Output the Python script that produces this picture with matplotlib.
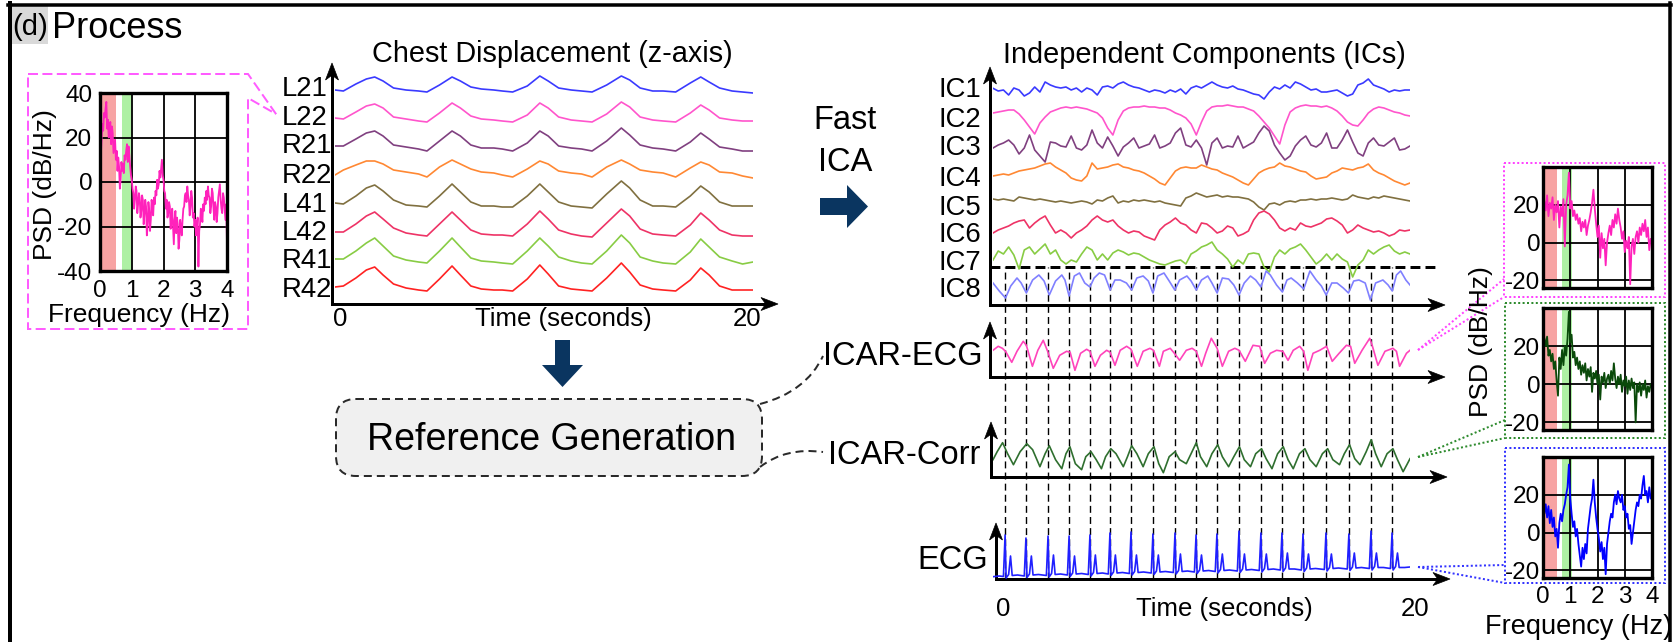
import numpy as np
import matplotlib
matplotlib.use("Agg")
import matplotlib.pyplot as plt
from matplotlib.patches import Polygon, Rectangle, FancyBboxPatch, PathPatch
from matplotlib.path import Path

plt.rcParams['font.family'] = ['Liberation Sans', 'DejaVu Sans']
plt.rcParams['axes.unicode_minus'] = False

W, H, DPI = 1673, 642, 100

# ---------------------------------------------------------------- data
# chest displacement (z-axis), per channel, relative to each channel's low level
chest_labels = ['L21', 'L22', 'R21', 'R22', 'L41', 'L42', 'R41', 'R42']
chest_colors = ['#3a3aff', '#ff55cc', '#804080', '#ff8833',
                '#807040', '#ee3366', '#88cc44', '#ff2222']
chest_t = [0.0, 0.4, 1.0, 1.5, 1.9, 2.3, 2.8, 3.4, 4.0, 4.4,
           5.0, 5.6, 6.0, 6.5, 7.0, 7.6, 8.0, 8.5,
           9.2, 9.8, 10.2, 10.7, 11.3, 11.8, 12.3,
           13.0, 13.7, 14.1, 14.6, 15.2, 15.7, 16.3,
           17.0, 17.5, 17.9, 18.4, 19.0, 19.5, 20.0]
chest_L21 = [2, 1, 8, 13, 15, 11, 4, 2, 1, 0, 7, 15, 11, 5, 3, 2, 1, 0,
             6, 16, 11, 4, 2, 1, 0, 7, 16, 12, 4, 1, 1, 0, 9, 15, 10, 4, 1, 0, -1]
chest_L22 = [4, 3, 10, 16, 18, 14, 5, 3, 1, 0, 9, 19, 14, 6, 3, 2, 1, 0,
             7, 19, 14, 5, 2, 1, 0, 8, 20, 15, 5, 2, 1, 0, 9, 17, 12, 4, 2, 1, 1]
chest_R21 = [5, 5, 12, 18, 20, 15, 6, 4, 2, 0, 10, 20, 15, 6, 3, 3, 2, 0,
             8, 20, 15, 5, 3, 2, 0, 10, 23, 16, 6, 3, 2, 0, 9, 18, 12, 4, 2, 0, 0]
chest_R22 = [3, 8, 13, 17, 17, 14, 8, 6, 4, 1, 11, 18, 14, 9, 6, 5, 3, 1,
             9, 17, 14, 7, 5, 4, 1, 11, 18, 14, 8, 6, 5, 1, 10, 16, 13, 6, 5, 2, 0]
chest_L41 = [5, 4, 12, 20, 23, 17, 8, 3, 2, 1, 12, 24, 16, 6, 2, 2, 1, 1,
             12, 24, 16, 6, 2, 1, 0, 14, 27, 20, 8, 2, 2, 1, 12, 22, 16, 6, 2, 2, 2]
chest_L42 = [5, 5, 13, 21, 25, 18, 9, 4, 2, 1, 13, 25, 17, 7, 3, 2, 2, 1,
             13, 26, 18, 7, 3, 1, 0, 14, 28, 21, 8, 3, 2, 1, 12, 24, 17, 7, 2, 1, 1]
chest_R41 = [6, 6, 14, 22, 27, 19, 9, 5, 3, 2, 14, 27, 18, 7, 4, 3, 2, 1,
             14, 27, 19, 8, 4, 2, 1, 14, 30, 22, 8, 4, 2, 1, 13, 26, 18, 8, 4, 1, 3]
chest_R42 = [5, 6, 14, 22, 25, 17, 8, 4, 2, 1, 13, 26, 17, 6, 3, 2, 2, 1,
             13, 27, 18, 6, 3, 2, 1, 14, 29, 20, 7, 3, 2, 1, 12, 24, 17, 6, 2, 2, 2]
chest_series = [chest_L21, chest_L22, chest_R21, chest_R22,
                chest_L41, chest_L42, chest_R41, chest_R42]

# independent components, sampled every 0.25 s
ic_labels = ['IC1', 'IC2', 'IC3', 'IC4', 'IC5', 'IC6', 'IC7', 'IC8']
ic_colors = ['#3a3aff', '#ff55cc', '#804080', '#ff8833',
             '#807040', '#ee3366', '#88cc44', '#8080ff']
ic_t = np.linspace(0, 20, 81)
ic1 = [1.7, -1, 0, -5, 2, 0, -6, -3,
       3, -2, 8, 5, 3, 2, 3, 0,
       2, -2, 2, 0, -5, 3, 4, 2,
       6, 8, 5, 3, 2, 0, -2, 0,
       -1, -3, 0, -2, 1, -4, 2, 4,
       2, 5, 8, 5, 3, 2, 4, 1,
       0, -2, -4, -5, -9, -2, 3, 1,
       5, 2, 8, 6, 3, 0, 1, -2,
       -2, -1, 0, -3, -6, -4, 5, 7,
       11, 5, 3, 1, -2, 0, -1, 0,
       0]
ic2 = [-5, -4, -3, -2, -2, -6, -12, -19,
       -26, -15, -9, -4, -2, 0, 1, 0,
       1, 0, -1, -3, -5, -10, -20, -27,
       -12, -3, 0, 1, 1, 2, 1, 1,
       0, 0, -2, -5, -7, -10, -16, -27,
       -14, -3, 1, 2, 2, 3, 2, 1,
       1, -1, -3, -8, -14, -20, -28, -36,
       -17, -4, 0, 2, 3, 2, 2, 1,
       2, 0, -3, -8, -14, -17, -18, -12,
       -5, -1, 1, 0, -2, -4, -5, -7,
       -8]
ic3 = [0, 3, 5, 8, 3, -6, 0, 13,
       -2, -8, -14, 6, 5, 2, 1, 12,
       0, -2, 3, 18, 5, 0, 11, 2,
       -8, 1, 5, 10, 0, 2, 4, 13,
       0, 2, 5, 15, 20, 3, 1, 8,
       0, -17, 5, 10, 0, 2, 1, 12,
       0, 3, 6, 15, 22, 17, 3, -5,
       -12, -8, 2, 8, 12, 3, 1, 5,
       15, 0, 0, 8, 18, 6, -5, -8,
       5, 10, 3, 2, 6, 10, -2, -1,
       2]
ic4 = [-3, -2, -1, -2, 0, 2, 3, 4,
       5, 7, 9, 10, 6, 3, 0, -5,
       -7, -8, -3, 10, 4, 5, 6, 8,
       9, 6, 5, 3, 2, 0, -3, -6,
       -10, -12, -5, 2, 5, 6, 5, 5,
       8, 6, 4, 3, 0, -2, -4, -7,
       -10, -12, -6, 0, 3, 5, 6, 10,
       7, 6, 4, 2, 1, -3, -6, -5,
       -4, 0, 2, 5, 4, 3, 5, 6,
       9, 3, 0, -2, -5, -8, -10, -12,
       -10]
ic5 = [1, 0, 1, 0, -1, 3, 2, 1,
       0, 1, 0, -1, -2, -1, -2, -3,
       -2, -1, -2, -4, 0, -1, 2, 4,
       -3, -1, -2, 0, -1, 0, -1, -2,
       -1, -3, -4, -5, -6, 2, 4, 7,
       5, 3, 4, 5, 3, 4, 3, 3,
       2, 1, -2, -7, -10, -4, -3, -5,
       -2, -1, -2, 0, 0, 1, 0, 1,
       1, 2, 1, 0, 1, 5, 3, 2,
       1, 3, 2, 4, 3, 2, 1, 0,
       -1]
ic6 = [-5, -2, 0, 2, 5, 7, 8, 0,
       5, 9, 12, 3, -5, -2, -5, -10,
       -5, -2, 2, 8, 12, 8, 6, 8,
       2, -2, -5, -3, -4, -8, -10, -12,
       -2, 3, 6, 10, 5, 3, -2, -5,
       5, 4, 0, -5, -3, 2, 0, -8,
       -6, -3, 8, 15, 17, 14, 8, 0,
       -3, 0, -2, 5, 2, 1, 3, 5,
       9, 10, 7, 3, -5, -2, 3, 0,
       -2, -4, -3, -5, -8, -6, -2, -3,
       -2]
ic7 = [-3, 6, 3, 10, 2, -12, 7, 10,
       3, 8, 13, 3, 7, -3, -7, -3,
       -5, 3, 10, 7, -3, 3, -3, 4,
       7, 5, 2, 4, 3, 0, -3, -5,
       -7, -8, -6, -4, -3, -7, 3, 6,
       10, 12, 15, 7, 3, -2, -10, -3,
       -7, 3, 4, 3, -10, -15, 0, 7,
       3, 8, 10, 13, 7, 0, -7, -3,
       3, -3, 3, -2, -5, -20, -8, -3,
       7, 3, 7, 10, 12, 6, 3, 5,
       3]
ic8_pts = [(0.0, 0), (0.3, -8), (0.6, -15), (0.85, -3), (1.15, 5), (1.35, 0),
           (1.6, -10), (1.9, 3), (2.2, 8), (2.45, 2), (2.7, -12), (3.0, 2),
           (3.3, 8), (3.45, 3), (3.65, -13), (3.9, 7), (4.15, 10), (4.4, 0),
           (4.65, -4), (4.85, 5), (5.1, 10), (5.35, 8), (5.62, -7), (5.85, 3),
           (6.1, 3), (6.4, 0), (6.65, -7), (6.9, 5), (7.2, 7), (7.45, 2),
           (7.67, -10), (7.9, 7), (8.2, 10), (8.45, 2), (8.72, -7), (8.95, 3),
           (9.3, 7), (9.5, 2), (9.75, -7), (10.0, 3), (10.3, 7), (10.5, 0),
           (10.75, -10), (11.0, 5), (11.3, 4), (11.55, -2), (11.8, -12), (12.05, 0),
           (12.35, 7), (12.6, 3), (12.85, -4), (13.1, 12), (13.3, 8), (13.6, -2),
           (13.88, -9), (14.1, 3), (14.3, 5), (14.6, 0), (14.9, -6), (15.2, 12),
           (15.5, 3), (15.75, -3), (15.98, -12), (16.25, 0), (16.5, 0), (16.8, -5),
           (17.05, -10), (17.3, 2), (17.55, 3), (17.85, 0), (18.1, -17), (18.35, 0),
           (18.7, 3), (18.95, -2), (19.15, -8), (19.35, 8), (19.55, 12), (19.8, 3),
           (20.0, -2)]

# reference signals
icar_ecg_pts = [(0, 3), (0.25, 7), (0.45, 5), (0.6, 2), (0.9, -9), (1.15, 2), (1.45, 12),
                (1.6, 8), (1.89, -13), (2.15, 3), (2.41, 13), (2.62, 2), (2.89, -15),
                (3.2, -2), (3.53, 2), (3.7, 1), (3.93, -17), (4.2, 0), (4.49, 4), (4.65, 2),
                (4.89, -13), (5.15, -2), (5.45, 3), (5.62, 1), (5.85, -12), (6.1, 3),
                (6.41, 7), (6.62, 4), (6.92, -13), (7.2, 2), (7.53, 5), (7.7, 3), (7.98, -13),
                (8.17, 2), (8.5, 5), (8.7, 0), (8.95, -7), (9.27, 3), (9.55, 5), (9.75, 2),
                (10.0, -13), (10.2, 0), (10.47, 15), (10.75, 5), (11.0, -13), (11.3, 2),
                (11.6, 5), (11.8, 3), (12.1, -8), (12.47, 8), (12.79, 7), (13.03, -10),
                (13.3, 0), (13.6, 3), (13.9, 2), (14.15, -7), (14.4, 3), (14.71, 7),
                (14.9, 2), (15.1, -17), (15.35, 0), (15.67, 3), (16.0, 7), (16.27, -8),
                (16.6, 0), (16.95, 8), (17.15, 7), (17.35, -10), (17.7, 3), (18.07, 15),
                (18.2, 7), (18.46, -12), (18.8, 2), (19.18, 5), (19.35, 2), (19.5, -13),
                (19.83, 0), (20.0, 3)]
icar_corr_pts = [(0, -3), (0.2, 5), (0.46, 14), (0.7, 3), (0.98, -8), (1.3, 5), (1.62, 13),
                 (1.9, 7), (2.25, -10), (2.5, 3), (2.7, 11), (3.0, -3), (3.3, -12), (3.5, 3),
                 (3.69, 10), (3.95, -7), (4.25, -13), (4.45, 0), (4.7, 5), (4.95, -3),
                 (5.2, -12), (5.4, 0), (5.65, 8), (5.9, 3), (6.25, -10), (6.45, 0),
                 (6.65, 11), (6.9, 3), (7.2, -10), (7.45, 3), (7.72, 10), (7.95, -7),
                 (8.17, -16), (8.45, 0), (8.73, 5), (8.95, -3), (9.27, -7), (9.5, 3),
                 (9.75, 14), (9.95, 0), (10.25, -10), (10.5, 3), (10.78, 12), (11.0, 0),
                 (11.3, -10), (11.55, 0), (11.82, 10), (12.05, -3), (12.35, -10), (12.6, 3),
                 (12.88, 8), (13.1, -2), (13.38, -12), (13.65, 3), (13.92, 10), (14.15, -3),
                 (14.4, -12), (14.7, 3), (14.96, 8), (15.2, -3), (15.5, -10), (15.8, 3),
                 (16.05, 8), (16.3, -3), (16.62, -8), (16.85, 3), (17.1, 12), (17.35, -2),
                 (17.6, -8), (17.9, 5), (18.14, 17), (18.35, 3), (18.62, -10), (18.9, 3),
                 (19.18, 8), (19.4, -3), (19.67, -15), (19.85, -8), (20.0, -2)]

# ECG: R-peak instants (s) and the traced waveform vertices
r_peak_times = [0.58, 1.58, 2.64, 3.65, 4.65, 5.61, 6.62, 7.67, 8.73, 9.74,
                10.74, 11.80, 12.85, 13.86, 14.87, 15.97, 17.07, 18.13, 19.14]
ecg_t = [0.0, 0.3,
         0.50, 0.58, 0.63, 0.75, 0.84, 0.92, 1.18,
         1.50, 1.58, 1.63, 1.75, 1.84, 1.92, 2.18,
         2.56, 2.64, 2.69, 2.81, 2.90, 2.98, 3.24,
         3.57, 3.65, 3.70, 3.82, 3.91, 3.99, 4.25,
         4.57, 4.65, 4.70, 4.82, 4.91, 4.99, 5.25,
         5.53, 5.61, 5.66, 5.78, 5.87, 5.95, 6.21,
         6.54, 6.62, 6.67, 6.79, 6.88, 6.96, 7.22,
         7.59, 7.67, 7.72, 7.84, 7.93, 8.01, 8.27,
         8.65, 8.73, 8.78, 8.90, 8.99, 9.07, 9.33,
         9.66, 9.74, 9.79, 9.91, 10.00, 10.08, 10.34,
         10.66, 10.74, 10.79, 10.91, 11.00, 11.08, 11.34,
         11.72, 11.80, 11.85, 11.97, 12.06, 12.14, 12.40,
         12.77, 12.85, 12.90, 13.02, 13.11, 13.19, 13.45,
         13.78, 13.86, 13.91, 14.03, 14.12, 14.20, 14.46,
         14.79, 14.87, 14.92, 15.04, 15.13, 15.21, 15.47,
         15.89, 15.97, 16.02, 16.14, 16.23, 16.31, 16.57,
         16.99, 17.07, 17.12, 17.24, 17.33, 17.41, 17.67,
         18.05, 18.13, 18.18, 18.30, 18.39, 18.47, 18.73,
         19.06, 19.14, 19.19, 19.31, 19.40, 19.48, 19.74,
         20.0]
ecg_v = [0.3, 1,
         0.5, 42, -1, 2.5, 21, 1.5, 2,
         1, 39, -0.5, 3, 21, 2, 2.5,
         1.5, 41, 0, 3.5, 22, 2.5, 3,
         2, 41, 0.5, 4, 21, 3, 3.5,
         2.5, 42, 1, 4.5, 22, 3.5, 4,
         3, 44, 1.5, 5, 22, 4, 4.5,
         3.5, 45, 2, 5.5, 22, 4.5, 5,
         4, 43, 2.5, 6, 22, 5, 5.5,
         4.5, 44, 3, 6.5, 23, 5.5, 6,
         5, 42, 3.5, 7, 22, 6, 6.5,
         5.5, 43, 4, 7.5, 23, 6.5, 7,
         6, 46, 4.5, 8, 23, 7, 7.5,
         6.5, 44, 5, 8.5, 23, 7.5, 8,
         7, 44, 5.5, 9, 24, 8, 8,
         7, 43, 5.5, 9, 23, 8, 8.5,
         7.5, 44, 6, 9.5, 23, 8.5, 9,
         8, 43, 6.5, 10, 24, 9, 9.5,
         8.5, 46, 7, 10.5, 24, 9.5, 9.5,
         8.5, 44, 7, 10.5, 24, 9.5, 9.5,
         10]

# power spectral densities (dB/Hz) over 0-4 Hz
psd_chest = [-38, 12, 19, 26, 23, 31, 29, 33, 36, 24,
             28, 20, 23, 27, 17, 25, 22, 13, 16, 19,
             10, 14, 5, 11, 7, -3, 1, 9, 5, 8,
             4, 12, 10, 14, 17, 9, 16, 12, 7, 3,
             1, -3, -5, -12, -8, -2, -4, -14, -10, -5,
             -7, -16, -13, -6, -8, -19, -14, -8, -11, -24,
             -20, -9, -13, -22, -17, -8, -11, -15, -7, -10,
             -4, -6, 1, -3, -1, 5, 2, 6, 10, 3,
             1, -4, -5, -12, -8, -16, -14, -9, -11, -21,
             -17, -12, -20, -28, -17, -13, -23, -16, -19, -30,
             -26, -17, -20, -24, -17, -12, -11, -6, -5, -9,
             -2, -6, -8, -15, -11, -4, -7, -16, -14, -20,
             -17, -24, -21, -16, -38, -22, -19, -12, -14, -18,
             -10, -13, -7, -10, -4, -8, -2, -6, -7, -14,
             -11, -3, -5, -12, -17, -9, -11, -18, -14, -7,
             -4, -1, -8, -12, -14, -5, -7, -12, -17, -10,
             -28]
psd_icar_ecg = [10, 22, 17, 25, 14, 21, 18, 24, 12, 20,
                16, 22, 8, 19, 14, 23, -2, 20, 25, 37,
                18, 22, 14, 17, 12, 15, 10, 13, 6, 11,
                8, 12, 4, 9, 12, 16, 21, 28, 18, 10,
                3, 9, -8, 5, -3, 2, -12, 0, 5, 9,
                4, 12, 8, 15, 10, 18, 12, 8, 2, 6,
                -5, 1, -3, 3, -22, -2, 2, -6, 3, 6,
                0, 8, 4, 10, 6, 12, 3, 8, -4, 2,
                0]
psd_icar_corr = [28, 24, 20, 25, 15, 18, 12, 16, 8, 12,
                 2, -6, 14, 8, 18, 10, 20, 15, 24, 38,
                 22, 26, 14, 17, 10, 14, 8, 12, 5, 10,
                 6, 11, 2, 8, 4, 9, -4, 6, 3, 7,
                 0, 5, -8, 4, 1, 6, -2, 3, 5, 0,
                 7, 2, 11, 3, -2, 4, 0, 5, -4, 2,
                 -1, 4, -5, 2, -3, 3, -2, 1, -20, 0,
                 -4, 1, -6, 0, -3, 2, -7, -1, -4, 0,
                 -2]
psd_ecg = [18, 10, 15, 8, 14, 5, 12, 3, 8, -2,
           2, -8, 5, 10, 6, 12, 15, 20, 24, 36,
           18, 10, 3, 6, -2, 2, -6, -12, -18, -8,
           -14, -6, -11, 2, 8, 14, 18, 28, 16, 8,
           2, -3, -10, -5, -14, -8, -22, -6, 0, 6,
           10, 8, 16, 20, 15, 22, 18, 16, 20, 12,
           14, 8, 10, 2, 4, -6, 0, 6, 12, 16,
           14, 20, 18, 25, 30, 20, 22, 16, 24, 18,
           20]
resp_band = (0.0, 0.5)
heart_band_chest = (0.7, 1.0)
heart_band_ref = (0.7, 1.05)

# ---------------------------------------------------------------- layout
fig = plt.figure(figsize=(W / DPI, H / DPI), dpi=DPI)
ov = fig.add_axes([0, 0, 1, 1], zorder=0)
ov.set_xlim(0, W)
ov.set_ylim(H, 0)
ov.axis('off')

PX = 72.0 / DPI          # points per pixel


def px_axes(x0, y0, x1, y1, z=2):
    return fig.add_axes([x0 / W, 1 - y1 / H, (x1 - x0) / W, (y1 - y0) / H], zorder=z)


def put(x, yc, s, size, ha='left', **kw):
    """Place text so that its capital letters are centred on yc (pixels)."""
    cap = 0.716 * size / PX
    ov.text(x, yc + 0.5 * cap, s, fontsize=size, ha=ha, va='baseline', **kw)


def axis_arrow(x0, y0, x1, y1, lw_px=3.0, hl=17, hw=6.5):
    d = np.array([x1 - x0, y1 - y0], float)
    d /= np.hypot(*d)
    n = np.array([-d[1], d[0]])
    tip = np.array([x1, y1], float)
    end = tip - d * hl * 0.7
    ov.plot([x0, end[0]], [y0, end[1]], color='black', lw=lw_px * PX,
            solid_capstyle='projecting')
    head = [tip, tip - d * hl + n * hw, tip - d * hl * 0.72, tip - d * hl - n * hw]
    ov.add_patch(Polygon(head, closed=True, facecolor='black', edgecolor='black', lw=0.5))


# outer frame and panel tag
ov.plot([10, 10], [3, H + 5], color='black', lw=4 * PX)
ov.plot([8, 1671], [4.5, 4.5], color='black', lw=3.5 * PX)
ov.plot([1670.5, 1670.5], [3, H + 5], color='black', lw=3.5 * PX)
ov.add_patch(Rectangle((11, 6), 37, 38, facecolor='#d9d9d9', edgecolor='none'))
put(30, 25, '(d)', 21, ha='center')
put(52, 25, 'Process', 26)

# ---------------- chest displacement panel
put(552, 52, 'Chest Displacement (z-axis)', 20.8, ha='center')
chest_base = [212, 182, 153, 126, 96, 67, 39, 12]
chest_label_y = [86, 115, 143, 173, 202, 230, 258, 287]
ax_c = px_axes(335, 54, 753, 304)
ax_c.set_xlim(0, 20)
ax_c.set_ylim(0, 250)
ax_c.axis('off')
for vals, base, col in zip(chest_series, chest_base, chest_colors):
    ax_c.plot(chest_t, np.asarray(vals, float) + base, color=col, lw=1.2)
for lab, yc in zip(chest_labels, chest_label_y):
    put(282, yc, lab, 19.8)
axis_arrow(332, 304, 332, 63)
axis_arrow(332, 304, 778, 304)
put(340, 317, '0', 18.5, ha='center')
put(747, 317, '20', 18.5, ha='center')
put(563, 317, 'Time (seconds)', 18.5, ha='center')

# chest PSD call-out
ov.add_patch(Polygon([(28, 74), (248, 74), (276, 114), (248, 98), (248, 329), (28, 329)],
                     closed=True, fill=False, edgecolor='#ff5cff', lw=2 * PX,
                     linestyle=(0, (5, 2.2))))
ax_p0 = px_axes(100, 93, 227, 271, z=3)
ax_p0.set_xlim(0, 4)
ax_p0.set_ylim(-40, 40)
ax_p0.set_xticks([0, 1, 2, 3, 4])
ax_p0.set_yticks([-40, -20, 0, 20, 40])
ax_p0.axvspan(*resp_band, color='#f7a3a3', lw=0, zorder=0.2)
ax_p0.axvspan(*heart_band_chest, color='#aef0a4', lw=0, zorder=0.2)
ax_p0.grid(True, color='black', lw=1.3)
ax_p0.set_axisbelow(True)
ax_p0.plot(np.linspace(0, 4, len(psd_chest)), psd_chest, color='#ff22bb', lw=1.3, zorder=2)
for sp in ax_p0.spines.values():
    sp.set_linewidth(2.4)
ax_p0.tick_params(axis='both', length=0, labelsize=17.5)
ax_p0.tick_params(axis='y', pad=5.5)
ax_p0.tick_params(axis='x', pad=6.5)
ov.text(45, 185, 'PSD (dB/Hz)', fontsize=19, rotation=90, ha='center', va='center')
put(139, 313, 'Frequency (Hz)', 19, ha='center')

# ---------------- process arrows and reference box
navy = '#0a3560'
ov.add_patch(Polygon([(820, 198), (847, 198), (847, 185), (868, 206.5), (847, 228),
                      (847, 215), (820, 215)], closed=True, facecolor=navy, edgecolor='none'))
put(845, 117, 'Fast', 23.5, ha='center')
put(845, 159, 'ICA', 23.5, ha='center')
ov.add_patch(Polygon([(555, 340), (570, 340), (570, 365), (583, 365), (562.5, 387),
                      (542, 365), (555, 365)], closed=True, facecolor=navy, edgecolor='none'))
ov.add_patch(FancyBboxPatch((336, 399), 426, 77, boxstyle='round,pad=0,rounding_size=20',
                            facecolor='#f0f0f0', edgecolor='#2a2a2a', lw=2 * PX,
                            linestyle=(0, (4, 2.5))))
put(552, 437, 'Reference Generation', 27, ha='center')
for verts in ([(760, 404), (806, 392), (823, 356)], [(760, 467), (786, 447), (823, 452)]):
    ov.add_patch(PathPatch(Path(verts, [Path.MOVETO, Path.CURVE3, Path.CURVE3]),
                           fill=False, edgecolor='#2a2a2a', lw=2 * PX,
                           linestyle=(0, (4, 2.5))))

# ---------------- independent components panel
put(1204, 53, 'Independent Components (ICs)', 20.8, ha='center')

T0, T1 = 993, 1410          # pixel extent of 0-20 s on the right-hand panels
ax_beats = px_axes(T0, 267, T1, 579, z=1)
ax_beats.set_xlim(0, 20)
ax_beats.set_ylim(0, 1)
ax_beats.axis('off')
ax_beats.vlines(r_peak_times, 0, 1, colors='black', lw=1.0, linestyles=(0, (5, 3)))

ic_base = [215, 197, 157, 132, 105, 77, 48, 22]
ic_label_y = [87, 117, 145, 176, 205, 232, 260, 287]
ax_i = px_axes(T0, 55, T1, 305)
ax_i.set_xlim(0, 20)
ax_i.set_ylim(0, 250)
ax_i.axis('off')
for vals, base, col in zip([ic1, ic2, ic3, ic4, ic5, ic6, ic7], ic_base[:7], ic_colors[:7]):
    ax_i.plot(ic_t, np.asarray(vals, float) + base, color=col, lw=1.2)
t8, v8 = zip(*ic8_pts)
ax_i.plot(t8, np.asarray(v8, float) + ic_base[7], color=ic_colors[7], lw=1.2)
for lab, yc in zip(ic_labels, ic_label_y):
    put(939, yc, lab, 19.8)
ov.plot([990, 1440], [267, 267], color='black', lw=3 * PX, linestyle=(0, (3.3, 1.7)))
axis_arrow(990, 305, 990, 67)
axis_arrow(990, 305, 1445, 305)

# ---------------- reference signals
ax_r1 = px_axes(T0, 322, T1, 377)
ax_r1.set_xlim(0, 20)
ax_r1.set_ylim(0, 55)
ax_r1.axis('off')
te, ve = zip(*icar_ecg_pts)
ax_r1.plot(te, np.asarray(ve, float) + 23.7, color='#ff44bb', lw=1.2)
axis_arrow(990, 377, 990, 322)
axis_arrow(990, 377, 1445, 377)
put(983, 353, 'ICAR-ECG', 23.5, ha='right')

ax_r2 = px_axes(T0, 422, T1, 477)
ax_r2.set_xlim(0, 20)
ax_r2.set_ylim(0, 55)
ax_r2.axis('off')
tc, vc = zip(*icar_corr_pts)
ax_r2.plot(tc, np.asarray(vc, float) + 20.3, color='#2f6f2f', lw=1.2)
axis_arrow(991, 477, 991, 422)
axis_arrow(991, 477, 1447, 477)
put(980, 452, 'ICAR-Corr', 23.5, ha='right')

ax_e = px_axes(T0, 523, T1, 579)
ax_e.set_xlim(0, 20)
ax_e.set_ylim(0, 56)
ax_e.axis('off')
ax_e.plot(ecg_t, np.asarray(ecg_v, float) + 2, color='#2020ff', lw=1.2)
axis_arrow(996, 579, 996, 523)
axis_arrow(996, 579, 1450, 579)
put(988, 557, 'ECG', 23.5, ha='right')

put(1003, 607, '0', 18.5, ha='center')
put(1415, 607, '20', 18.5, ha='center')
put(1224, 607, 'Time (seconds)', 18.5, ha='center')

# ---------------- reference PSDs with call-outs
psd_panels = [
    (psd_icar_ecg, '#ff22bb', (167, 288), (1504, 163, 1665, 297), '#ff44ff',
     (1418, 350), [(1504, 279), (1504, 297)]),
    (psd_icar_corr, '#0a4a0a', (308, 430), (1505, 303, 1665, 438), '#2e8b2e',
     (1418, 457), [(1505, 420), (1505, 438)]),
    (psd_ecg, '#0000ff', (457, 578), (1505, 448, 1665, 583), '#3333ff',
     (1418, 567), [(1505, 565), (1505, 583)]),
]
for k, (vals, col, (ya, yb), box, bcol, src, dsts) in enumerate(psd_panels):
    bx0, by0, bx1, by1 = box
    ov.add_patch(Rectangle((bx0, by0), bx1 - bx0, by1 - by0, fill=False, edgecolor=bcol,
                           lw=2 * PX, linestyle=(0, (1, 1.2))))
    for dx, dy in dsts:
        ov.plot([src[0], dx], [src[1], dy], color=bcol, lw=2 * PX, linestyle=(0, (1, 1.2)))
    ax = px_axes(1543, ya, 1652, yb, z=3)
    ax.set_xlim(0, 4)
    ax.set_ylim(-24, 40)
    ax.set_xticks([0, 1, 2, 3, 4])
    ax.set_yticks([-20, 0, 20])
    ax.axvspan(*resp_band, color='#f7a3a3', lw=0, zorder=0.2)
    ax.axvspan(*heart_band_ref, color='#aef0a4', lw=0, zorder=0.2)
    ax.grid(True, color='black', lw=1.3)
    ax.set_axisbelow(True)
    ax.plot(np.linspace(0, 4, len(vals)), vals, color=col, lw=1.3, zorder=2)
    for sp in ax.spines.values():
        sp.set_linewidth(2.4)
    ax.tick_params(axis='both', length=0, labelsize=17.5)
    ax.tick_params(axis='y', pad=2)
    ax.tick_params(axis='x', pad=6, labelbottom=(k == 2))

ov.text(1481, 342, 'PSD (dB/Hz)', fontsize=19, rotation=90, ha='center', va='center')
put(1485, 624, 'Frequency (Hz)', 19.5)

fig.savefig('out.png', dpi=DPI)
